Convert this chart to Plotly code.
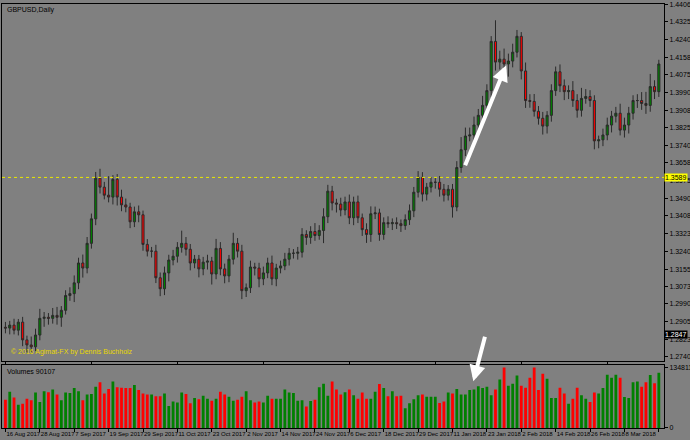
import plotly.graph_objs as go

# daily closes, GBPUSD 16 Aug 2017 .. 20 Mar 2018
closes = [
    1.2876, 1.2890, 1.2866, 1.2904, 1.2820, 1.2796, 1.2787, 1.2843, 1.2922, 1.2927,
    1.2922, 1.2936, 1.2927, 1.2960, 1.3030, 1.3039, 1.3090, 1.3184, 1.3160, 1.3277,
    1.3393, 1.3585, 1.3543, 1.3505, 1.3496, 1.3580, 1.3496, 1.3459, 1.3449, 1.3379,
    1.3426, 1.3412, 1.3272, 1.3240, 1.3240, 1.3114, 1.3062, 1.3137, 1.3198, 1.3216,
    1.3258, 1.3277, 1.3249, 1.3184, 1.3202, 1.3156, 1.3188, 1.3193, 1.3132, 1.3253,
    1.3156, 1.3123, 1.3202, 1.3277, 1.3240, 1.3053, 1.3067, 1.3165, 1.3160, 1.3109,
    1.3137, 1.3184, 1.3109, 1.3160, 1.3170, 1.3202, 1.3230, 1.3230, 1.3235, 1.3319,
    1.3305, 1.3333, 1.3314, 1.3338, 1.3403, 1.3524, 1.3468, 1.3463, 1.3435, 1.3473,
    1.3398, 1.3473, 1.3398, 1.3342, 1.3319, 1.3417, 1.3421, 1.3319, 1.3375, 1.3370,
    1.3375, 1.3370, 1.3361, 1.3389, 1.3431, 1.3519, 1.3589, 1.3510, 1.3543, 1.3566,
    1.3566, 1.3533, 1.3505, 1.3533, 1.3449, 1.3636, 1.3720, 1.3785, 1.3790, 1.3837,
    1.3883, 1.3930, 1.4000, 1.4233, 1.4135, 1.4149, 1.4126, 1.4140, 1.4182, 1.4257,
    1.4093, 1.3953, 1.3949, 1.3902, 1.3869, 1.3832, 1.3883, 1.4000, 1.4089, 1.4023,
    1.3995, 1.4000, 1.3953, 1.3907, 1.3963, 1.3972, 1.3953, 1.3762, 1.3767, 1.3790,
    1.3837, 1.3879, 1.3893, 1.3813, 1.3837, 1.3893, 1.3953, 1.3953, 1.3939, 1.3930,
    1.4019, 1.3995, 1.4126,
]
first_open = 1.2880

# wick lengths beyond the body, in pips
wick_up = [
    25, 20, 30, 15, 25, 20, 40, 30, 45, 25, 20, 35, 40, 20, 25, 30, 35, 25, 40, 30,
    25, 30, 45, 25, 90, 20, 25, 35, 30, 20, 25, 30, 20, 25, 20, 30, 25, 30, 25, 30,
    25, 60, 30, 25, 20, 20, 25, 30, 20, 45, 30, 25, 20, 50, 25, 30, 20, 30, 20, 25,
    30, 25, 35, 20, 25, 30, 25, 20, 25, 30, 20, 25, 40, 25, 40, 30, 25, 20, 30, 25,
    35, 25, 30, 20, 30, 35, 30, 20, 25, 30, 20, 25, 20, 25, 30, 25, 30, 25, 20, 25,
    20, 30, 25, 20, 25, 30, 60, 40, 35, 40, 30, 45, 30, 25, 100, 40, 50, 35, 40, 30,
    20, 40, 30, 35, 25, 30, 20, 30, 25, 35, 30, 25, 45, 30, 50, 35, 30, 25, 20, 30,
    35, 25, 30, 45, 35, 30, 25, 30, 40, 55, 60, 30, 20,
]
wick_dn = [
    25, 30, 20, 25, 30, 35, 25, 20, 25, 40, 30, 25, 35, 45, 20, 25, 40, 30, 45, 25,
    25, 30, 30, 20, 25, 35, 40, 30, 25, 30, 25, 35, 30, 25, 30, 25, 35, 30, 40, 25,
    30, 25, 30, 35, 25, 40, 30, 35, 50, 25, 30, 35, 30, 25, 30, 40, 30, 25, 35, 40,
    30, 25, 30, 35, 25, 20, 30, 25, 30, 25, 35, 30, 25, 20, 60, 30, 35, 40, 30, 25,
    30, 35, 25, 30, 40, 35, 25, 30, 25, 20, 30, 25, 30, 20, 25, 30, 25, 35, 30, 25,
    30, 35, 30, 25, 50, 20, 25, 30, 25, 40, 35, 30, 25, 30, 40, 35, 50, 60, 30, 25,
    40, 35, 30, 25, 30, 40, 35, 30, 25, 30, 40, 35, 30, 35, 30, 25, 30, 40, 35, 30,
    25, 35, 30, 25, 35, 40, 30, 35, 30, 40, 30, 35, 25,
]

# tick volumes, thousands
volumes = [
    63, 81, 68, 52, 54, 65, 62, 79, 58, 82, 80, 86, 75, 62, 79, 78, 89, 82, 62, 75,
    76, 92, 102, 77, 87, 104, 91, 90, 89, 89, 96, 85, 77, 75, 75, 71, 71, 77, 49, 59,
    57, 79, 76, 55, 67, 64, 72, 65, 61, 65, 81, 75, 70, 61, 63, 70, 82, 62, 57, 59,
    57, 72, 65, 65, 65, 86, 79, 78, 61, 62, 48, 60, 63, 91, 99, 72, 104, 86, 75, 80,
    86, 73, 65, 79, 65, 65, 81, 98, 89, 71, 82, 71, 72, 44, 55, 64, 73, 75, 70, 70,
    70, 56, 59, 79, 77, 87, 75, 75, 85, 86, 93, 89, 92, 73, 86, 108, 135, 94, 99, 117,
    94, 90, 112, 135, 85, 121, 110, 67, 67, 90, 77, 54, 65, 90, 73, 65, 58, 79, 77, 89,
    119, 112, 119, 112, 69, 67, 102, 104, 92, 102, 118, 100, 123,
]

date_labels = [
    "16 Aug 2017", "28 Aug 2017", "7 Sep 2017", "19 Sep 2017", "29 Sep 2017",
    "11 Oct 2017", "23 Oct 2017", "2 Nov 2017", "14 Nov 2017", "24 Nov 2017",
    "6 Dec 2017", "18 Dec 2017", "29 Dec 2017", "11 Jan 2018", "23 Jan 2018",
    "2 Feb 2018", "14 Feb 2018", "26 Feb 2018", "8 Mar 2018", "20 Mar 2018",
]
price_ticks = [
    1.2740, 1.2823, 1.2905, 1.2990, 1.3073, 1.3155, 1.3240, 1.3323, 1.3408, 1.3490,
    1.3575, 1.3658, 1.3740, 1.3825, 1.3908, 1.3990, 1.4075, 1.4158, 1.4240, 1.4325,
    1.4406,
]
level_line = 1.3589
bid_price = 1.2847

n = len(closes)
x = list(range(n))
opens = [first_open] + closes[:-1]
highs = [max(o, c) + w / 10000 for o, c, w in zip(opens, closes, wick_up)]
lows = [min(o, c) - w / 10000 for o, c, w in zip(opens, closes, wick_dn)]
vol_colors = ["#008000" if c >= o else "#ff0000" for o, c in zip(opens, closes)]

fig = go.Figure()
fig.add_trace(go.Candlestick(
    x=x, open=opens, high=highs, low=lows, close=closes,
    increasing=dict(fillcolor="#008000", line=dict(color="#2a2a2a", width=1)),
    decreasing=dict(fillcolor="#ff0000", line=dict(color="#2a2a2a", width=1)),
    whiskerwidth=0, showlegend=False, hoverinfo="skip",
))
fig.add_trace(go.Bar(
    x=x, y=[v * 1000 for v in volumes], marker=dict(color=vol_colors, line_width=0),
    width=0.65, xaxis="x2", yaxis="y2", showlegend=False,
))

fig.add_shape(type="line", xref="paper", yref="y", x0=0, x1=1, y0=level_line, y1=level_line,
              line=dict(color="#e8e800", width=1, dash="dot"))

# white arrows
fig.add_annotation(x=116.5, y=1.4120, ax=106.8, ay=1.3640, xref="x", yref="y", axref="x", ayref="y",
                   showarrow=True, arrowhead=2, arrowsize=0.8, arrowwidth=4, arrowcolor="white", text="")
fig.add_annotation(x=0.712, y=0.11, ax=12, ay=-46, xref="paper", yref="paper",
                   showarrow=True, arrowhead=2, arrowsize=0.8, arrowwidth=4, arrowcolor="white", text="")

txt = dict(family="Liberation Sans, Arial", size=7)
fig.add_annotation(text="GBPUSD,Daily", x=0.005, y=1.0, xref="paper", yref="paper", xanchor="left",
                   yanchor="top", showarrow=False, font=dict(color="black", **txt))
fig.add_annotation(text="Volumes 90107", x=0.005, y=0.147, xref="paper", yref="paper", xanchor="left",
                   yanchor="top", showarrow=False, font=dict(color="black", **txt))
fig.add_annotation(text="© 2016 Agimat-FX by Dennis Buchholz", x=0.01, y=0.165, xref="paper",
                   yref="paper", xanchor="left", yanchor="bottom", showarrow=False,
                   font=dict(color="#e8d800", **txt))
fig.add_annotation(text="%.4f" % level_line, x=1.0, y=level_line, xref="paper", yref="y",
                   xanchor="left", showarrow=False, bgcolor="#ffff00", borderpad=0,
                   font=dict(color="black", **txt))
fig.add_annotation(text="%.4f" % bid_price, x=1.0, y=bid_price, xref="paper", yref="y",
                   xanchor="left", showarrow=False, bgcolor="black", borderpad=0,
                   font=dict(color="white", **txt))

axis_common = dict(showgrid=False, zeroline=False, showline=True, linecolor="black", mirror=True,
                   tickfont=dict(color="black", **txt), ticks="outside", ticklen=3, tickcolor="black",
                   automargin=False, tickangle=0)
fig.update_layout(
    width=690, height=440,
    margin=dict(l=2, r=26, t=4, b=12),
    paper_bgcolor="#808080", plot_bgcolor="#808080",
    bargap=0.3,
    xaxis=dict(domain=[0, 1], range=[-0.8, n + 0.2], rangeslider=dict(visible=False),
               showticklabels=False, anchor="y", **axis_common),
    yaxis=dict(domain=[0.158, 1], range=[1.2720, 1.4410], side="right", tickvals=price_ticks,
               ticktext=["%.4f" % t for t in price_ticks], **axis_common),
    xaxis2=dict(domain=[0, 1], matches="x", anchor="y2", tickvals=list(range(0, n, 8)),
                ticktext=date_labels, ticklabelposition="outside right", **axis_common),
    yaxis2=dict(domain=[0, 0.148], range=[0, 140000], side="right", tickvals=[0, 134811],
                ticktext=["0", "134811"], **axis_common),
)
fig.update_xaxes(tickfont_size=6, selector=dict(anchor="y2"))
fig.update_yaxes(tickfont_size=6, selector=dict(domain=[0, 0.148]))

# the page's default body margin would push the figure out of the window
fig.write_html("out.html", config=dict(displayModeBar=False),
               post_script="document.body.style.margin='0';")
